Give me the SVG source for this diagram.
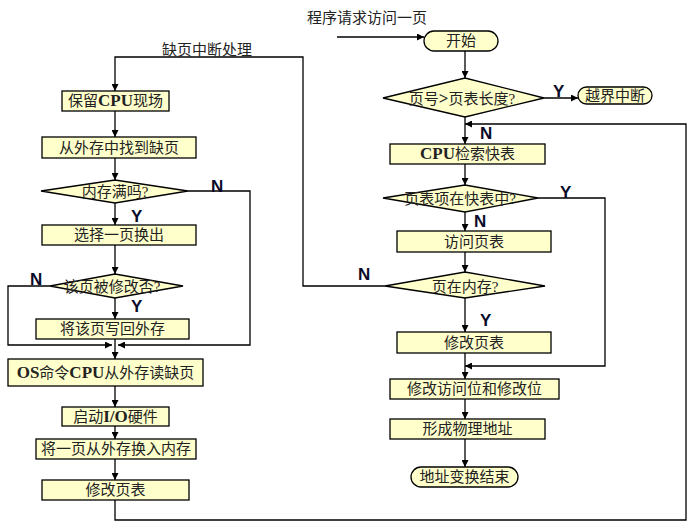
<svg xmlns="http://www.w3.org/2000/svg" width="699" height="529" viewBox="0 0 699 529">
<defs>
<marker id="ah" viewBox="0 0 10 10" refX="10" refY="5" markerWidth="7" markerHeight="7" markerUnits="userSpaceOnUse" orient="auto"><path d="M0,0 L10,5 L0,10 z" fill="#000"/></marker>
<style>
.box{fill:#FFFFCC;stroke:#000;stroke-width:1.3}
.t{font-family:"Liberation Serif","Noto Sans CJK SC",serif;font-size:15px;fill:#222;text-anchor:middle}
.b{font-weight:bold;font-size:17px}
.yn{font-family:"Liberation Sans",Arial,sans-serif;font-size:17px;font-weight:bold;fill:#0a0a2a}
.c{fill:none;stroke:#000;stroke-width:1.3}
.a{marker-end:url(#ah)}
</style>
</defs>
<rect width="699" height="529" fill="#fff"/>
<g id="connectors">
<path class="c a" d="M385,286 H303 V57 H115 V91"/>
<path class="c a" d="M115,111 V137"/>
<path class="c a" d="M115,158 V180"/>
<path class="c a" d="M115,203 V225"/>
<path class="c a" d="M115,245 V274"/>
<path class="c a" d="M115,298 V319"/>
<path class="c a" d="M115,339 V359"/>
<path class="c a" d="M188,191 H250 V345 H118"/>
<path class="c a" d="M50,286 H8 V345 H112"/>
<path class="c a" d="M115,386 V407"/>
<path class="c a" d="M115,426 V439"/>
<path class="c a" d="M115,459 V480"/>
<path class="c a" d="M115,500 V520 H686 V124 H465"/>
<path class="c a" d="M337,37 H424"/>
<path class="c a" d="M465,51 V78"/>
<path class="c a" d="M544,98 H578"/>
<path class="c a" d="M465,117 V144"/>
<path class="c a" d="M465,164 V185"/>
<path class="c a" d="M465,212 V231"/>
<path class="c a" d="M538,198 H605 V366 H465"/>
<path class="c a" d="M465,252 V272"/>
<path class="c a" d="M465,298 V332"/>
<path class="c a" d="M465,353 V379"/>
<path class="c a" d="M465,399 V419"/>
<path class="c a" d="M465,439 V467"/>
</g>
<g id="labels">
<text class="t" x="367" y="23">程序请求访问一页</text>
<text class="t" x="207" y="55">缺页中断处理</text>
<text class="yn" x="211" y="192">N</text>
<text class="yn" x="131" y="222">Y</text>
<text class="yn" x="30" y="285">N</text>
<text class="yn" x="131" y="312">Y</text>
<text class="yn" x="553" y="97">Y</text>
<text class="yn" x="480" y="139">N</text>
<text class="yn" x="560" y="198">Y</text>
<text class="yn" x="474" y="227">N</text>
<text class="yn" x="358" y="280">N</text>
<text class="yn" x="480" y="326">Y</text>
</g>
<g id="n_save"><rect class="box" x="62" y="91" width="107" height="20"/><text class="t" x="115.5" y="106">保留<tspan class="b">CPU</tspan>现场</text></g>
<g id="n_find"><rect class="box" x="42" y="137" width="154" height="21"/><text class="t" x="119" y="153">从外存中找到缺页</text></g>
<g id="n_full"><polygon class="box" points="41,191 115,180 188,191 115,203"/><text class="t" x="115" y="197">内存满吗?</text></g>
<g id="n_select"><rect class="box" x="42" y="225" width="154" height="20"/><text class="t" x="119" y="240">选择一页换出</text></g>
<g id="n_modified"><polygon class="box" points="50,286 115,274 183,286 115,298"/><text class="t" x="112" y="292">该页被修改否?</text></g>
<g id="n_writeback"><rect class="box" x="36" y="319" width="153" height="20"/><text class="t" x="112.5" y="334">将该页写回外存</text></g>
<g id="n_os"><rect class="box" x="8" y="359" width="195" height="27"/><text class="t" x="105.5" y="378"><tspan class="b">OS</tspan>命令<tspan class="b">CPU</tspan>从外存读缺页</text></g>
<g id="n_io"><rect class="box" x="62" y="407" width="107" height="19"/><text class="t" x="115.5" y="422">启动<tspan class="b">I/O</tspan>硬件</text></g>
<g id="n_swapin"><rect class="box" x="36" y="439" width="160" height="20"/><text class="t" x="116" y="454">将一页从外存换入内存</text></g>
<g id="n_modpt_l"><rect class="box" x="42" y="480" width="147" height="20"/><text class="t" x="115.5" y="495">修改页表</text></g>
<g id="n_start"><rect class="box" x="424" y="31" width="74" height="20" rx="10"/><text class="t" x="461" y="46">开始</text></g>
<g id="n_len"><polygon class="box" points="383,98 465,78 544,98 465,117"/><text class="t" x="462" y="104">页号<tspan class="b">&gt;</tspan>页表长度?</text></g>
<g id="n_outofbound"><rect class="box" x="578" y="87" width="74" height="17" rx="8.5"/><text class="t" x="615" y="101">越界中断</text></g>
<g id="n_tlb"><rect class="box" x="390" y="144" width="155" height="20"/><text class="t" x="467.5" y="159"><tspan class="b">CPU</tspan>检索快表</text></g>
<g id="n_intlb"><polygon class="box" points="383,198 465,185 538,198 465,212"/><text class="t" x="460" y="204">页表项在快表中?</text></g>
<g id="n_visit"><rect class="box" x="397" y="231" width="154" height="21"/><text class="t" x="474" y="247">访问页表</text></g>
<g id="n_inmem"><polygon class="box" points="385,286 465,272 545,286 465,298"/><text class="t" x="465" y="292">页在内存?</text></g>
<g id="n_modpt_r"><rect class="box" x="397" y="332" width="154" height="21"/><text class="t" x="474" y="348">修改页表</text></g>
<g id="n_bits"><rect class="box" x="390" y="379" width="169" height="20"/><text class="t" x="474.5" y="394">修改访问位和修改位</text></g>
<g id="n_phys"><rect class="box" x="390" y="419" width="155" height="20"/><text class="t" x="467.5" y="434">形成物理地址</text></g>
<g id="n_end"><rect class="box" x="411" y="467" width="107" height="20" rx="10"/><text class="t" x="464.5" y="482">地址变换结束</text></g>
</svg>
